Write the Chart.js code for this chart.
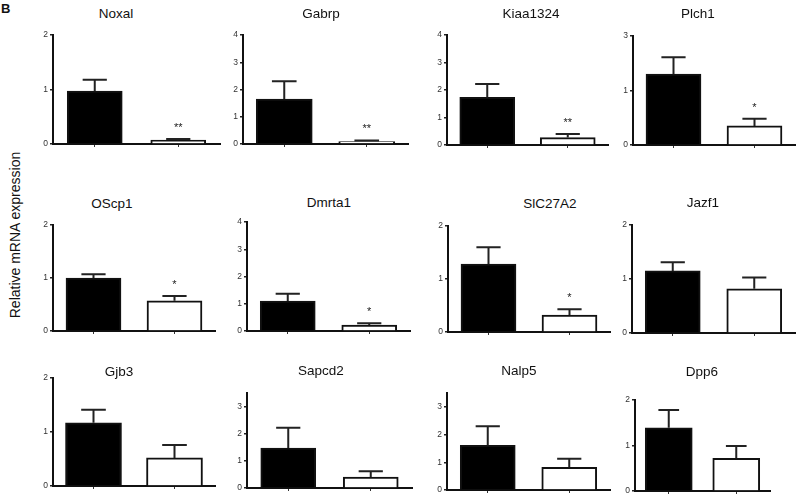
<!DOCTYPE html>
<html lang="en">
<head>
<meta charset="UTF-8" />
<title>Relative mRNA expression</title>
<script src="https://cdn.jsdelivr.net/npm/chart.js"></script>
<style>
  *{margin:0;padding:0;box-sizing:border-box}
  body{width:798px;height:496px;background:#fff;position:relative;overflow:hidden;font-family:"Liberation Sans",Arial,sans-serif;color:#111}
  canvas{position:absolute}
  .gene{position:absolute;width:120px;text-align:center;font-size:13.5px;line-height:16px}
  .ylab{position:absolute;left:15px;top:235px;font-size:14px;white-space:nowrap;transform:translate(-50%,-50%) rotate(-90deg)}
  .tag{position:absolute;left:1px;top:1px;font-size:13px;font-weight:bold}
</style>
</head>
<body>
<div class="tag">B</div>
<div class="ylab">Relative mRNA expression</div>
<script>
// values (mean and SEM, first bar = black, second = white)
const genes = ['Noxal', 'Gabrp', 'Kiaa1324', 'Plch1', 'OScp1', 'Dmrta1', 'SlC27A2', 'Jazf1', 'Gjb3', 'Sapcd2', 'Nalp5', 'Dpp6'];
const blackMean = [0.97, 1.65, 1.73, 1.30, 1.00, 1.10, 1.28, 1.15, 1.17, 1.47, 1.61, 1.39];
const blackSem  = [0.21, 0.65, 0.49, 0.31, 0.07, 0.27, 0.32, 0.16, 0.24, 0.75, 0.69, 0.39];
const whiteMean = [0.07, 0.09, 0.27, 0.35, 0.57, 0.22, 0.32, 0.82, 0.52, 0.40, 0.82, 0.72];
const whiteSem  = [0.02, 0.04, 0.13, 0.13, 0.09, 0.06, 0.11, 0.21, 0.24, 0.22, 0.31, 0.27];
const stars     = ['**', '**', '**', '*', '*', '*', '*', '', '', '', '', ''];
const yMax      = [2, 4, 4, 2, 2, 4, 2, 2, 2, 3.5, 3.5, 2];
// Plch1 axis is printed 0 / 1 / 3 in the figure
const plch1Ticks = ['0', '1', '3'];

// panel placement: axis left, axis right, axis top, baseline, bar width, title centre x, y
const boxes = [
  [53, 220, 35, 144, 55, 116, 14], [243, 408, 35, 144, 56, 321, 14],
  [447, 608, 35, 145, 55, 531, 14], [633, 795, 36, 145, 55, 698, 14],
  [53, 215, 225, 331, 55, 112, 204], [247, 410, 222, 331, 55, 329, 203],
  [448, 610, 226, 332, 55, 550, 204], [632, 795, 225, 333, 55, 703, 203],
  [53, 215, 378, 486, 56, 119, 372], [247, 412, 393, 488, 55, 321, 371],
  [447, 610, 393, 490, 55, 519, 371], [635, 770, 400, 491, 47, 702, 372]
];
const YW = 22, XH = 8, PT = 8, PR = 3;

const errorBars = {
  id: 'errorBars',
  afterDatasetsDraw(chart, args, opts) {
    const ctx = chart.ctx, y = chart.scales.y;
    const vals = chart.data.datasets[0].data;
    chart.getDatasetMeta(0).data.forEach((bar, i) => {
      const top = y.getPixelForValue(vals[i] + opts.sem[i]);
      const cap = bar.width * 0.22;
      ctx.save();
      ctx.strokeStyle = '#222';
      ctx.lineWidth = 2;
      ctx.beginPath();
      ctx.moveTo(bar.x, bar.y);
      ctx.lineTo(bar.x, top);
      ctx.moveTo(bar.x - cap, top);
      ctx.lineTo(bar.x + cap, top);
      ctx.stroke();
      if (opts.stars[i]) {
        ctx.fillStyle = '#222';
        ctx.font = '11px "Liberation Sans", Arial';
        ctx.textAlign = 'center';
        ctx.textBaseline = 'alphabetic';
        ctx.fillText(opts.stars[i], bar.x, top - 8);
      }
      ctx.restore();
    });
  }
};

genes.forEach((gene, i) => {
  const [l, r, t, b, bw, tx, ty] = boxes[i];
  const cv = document.createElement('canvas');
  cv.width = r - l + YW + PR;
  cv.height = b - t + PT + XH;
  cv.style.left = (l - YW) + 'px';
  cv.style.top = (t - PT) + 'px';
  document.body.appendChild(cv);

  const title = document.createElement('div');
  title.className = 'gene';
  title.textContent = gene;
  title.style.left = (tx - 60) + 'px';
  title.style.top = (ty - 8) + 'px';
  document.body.appendChild(title);

  new Chart(cv, {
    type: 'bar',
    data: {
      labels: ['', ''],
      datasets: [{
        data: [blackMean[i], whiteMean[i]],
        backgroundColor: ['#000', '#fff'],
        borderColor: '#111',
        borderWidth: 2,
        barThickness: bw
      }]
    },
    options: {
      responsive: false,
      animation: false,
      layout: { padding: { top: PT, right: PR, left: 0, bottom: 0 } },
      plugins: {
        legend: { display: false },
        tooltip: { enabled: false },
        errorBars: { sem: [blackSem[i], whiteSem[i]], stars: ['', stars[i]] }
      },
      scales: {
        x: {
          grid: { offset: false, drawOnChartArea: false, drawTicks: true, tickLength: 3, color: '#333', lineWidth: 1 },
          border: { display: true, color: '#111', width: 2 },
          ticks: { display: false },
          afterFit: s => { s.height = XH; }
        },
        y: {
          min: 0,
          max: yMax[i],
          grid: { drawOnChartArea: false, drawTicks: true, tickLength: 3, color: '#222', lineWidth: 1.5 },
          border: { display: true, color: '#111', width: 2 },
          ticks: {
            stepSize: 1,
            includeBounds: false,
            padding: 2,
            color: '#333',
            font: { size: 8.5, family: '"Liberation Sans", Arial' },
            callback: v => (gene === 'Plch1' ? plch1Ticks[v] : v)
          },
          afterFit: s => { s.width = YW; }
        }
      }
    },
    plugins: [errorBars]
  });
});
</script>
</body>
</html>
